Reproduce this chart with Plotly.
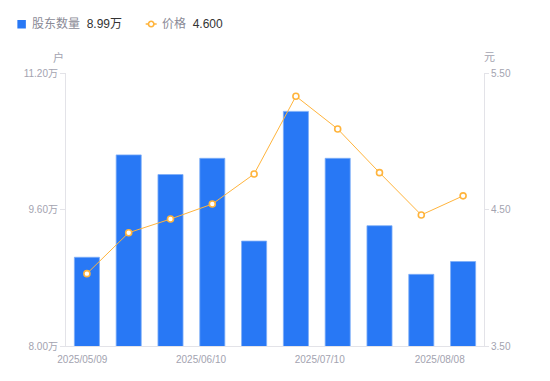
import plotly.graph_objects as go

# ---- data ----
holders = [9.04, 10.24, 10.01, 10.20, 9.23, 10.75, 10.20, 9.41, 8.84, 8.99]   # 万户
price = [4.03, 4.33, 4.43, 4.54, 4.76, 5.33, 5.09, 4.77, 4.46, 4.60]          # 元
x_tick_labels = ["2025/05/09", "2025/06/10", "2025/07/10", "2025/08/08"]
y_left_ticks = [8.00, 9.60, 11.20]
y_right_ticks = [3.50, 4.50, 5.50]
holder_name = "股东数量"
price_name = "价格"
latest_holder = "8.99万"
latest_price = "4.600"

# ---- styles ----
BLUE = "#2878F5"
ORANGE = "#FFB43C"
TICK = "#A3A3B0"
AXIS = "#E3E3E8"
FONT = "Liberation Sans, Arial, Noto Sans CJK SC, sans-serif"

OFF = 8                      # page body margin
W, H = 550 - OFF, 381 - OFF
PL, PR, PT, PB = 65.7, 484.3, 73, 346     # plot area in page pixels
L, R, T, B = PL - OFF, W - (PR - OFF), PT - OFF, H - (PB - OFF)
pw, ph = W - L - R, H - T - B

idx = list(range(len(holders)))

fig = go.Figure()
fig.add_trace(go.Bar(
    x=idx, y=holders, name=holder_name,
    marker=dict(color=BLUE, line=dict(color="#7FAEF8", width=0.8)),
    width=0.6, yaxis="y", hoverinfo="skip",
))
fig.add_trace(go.Scatter(
    x=idx, y=price, name=price_name, mode="lines+markers", yaxis="y2",
    line=dict(color=ORANGE, width=1),
    marker=dict(symbol="circle", size=6, color="white",
                line=dict(color=ORANGE, width=1.6)),
    hoverinfo="skip",
))

# tick positions of the date labels (in category units)
x_tick_pos = [-0.11, 2.73, 5.57, 8.44]

fig.update_layout(
    width=W, height=H,
    margin=dict(l=L, r=R, t=T, b=B, pad=0),
    paper_bgcolor="white", plot_bgcolor="white",
    showlegend=False,
    font=dict(family=FONT, size=10, color=TICK),
    xaxis=dict(
        range=[-0.5, len(holders) - 0.5],
        tickmode="array", tickvals=x_tick_pos, ticktext=x_tick_labels,
        showgrid=False, zeroline=False,
        showline=True, linecolor=AXIS, linewidth=1,
        ticks="", ticklabelstandoff=4, tickfont=dict(size=10, color=TICK),
    ),
    yaxis=dict(
        range=[8.0, 11.2],
        tickmode="array", tickvals=y_left_ticks,
        ticktext=[f"{v:.2f}万" for v in y_left_ticks],
        showgrid=False, zeroline=False,
        showline=True, linecolor=AXIS, linewidth=1,
        ticks="outside", ticklen=5, tickcolor=AXIS,
        tickfont=dict(size=10, color=TICK),
    ),
    yaxis2=dict(
        range=[3.5, 5.5], overlaying="y", side="right",
        tickmode="array", tickvals=y_right_ticks,
        ticktext=[f"{v:.2f}" for v in y_right_ticks],
        showgrid=False, zeroline=False,
        showline=True, linecolor=AXIS, linewidth=1,
        ticks="outside", ticklen=4, tickcolor=AXIS,
        tickfont=dict(size=10, color=TICK),
    ),
)

def px_x(p):
    return (p - PL) / pw

def px_y(p):
    return (PB - p) / ph

# axis unit labels
fig.add_annotation(text="户", x=px_x(58), y=px_y(57), xref="paper", yref="paper",
                   showarrow=False, font=dict(size=11, color=TICK),
                   xanchor="center", yanchor="middle")
fig.add_annotation(text="元", x=px_x(490), y=px_y(57), xref="paper", yref="paper",
                   showarrow=False, font=dict(size=11, color=TICK),
                   xanchor="center", yanchor="middle")

# custom legend
ly = px_y(24)
fig.add_shape(type="rect", xref="paper", yref="paper",
              x0=px_x(17), x1=px_x(25.5), y0=px_y(20), y1=px_y(28.5),
              fillcolor=BLUE, line=dict(width=0))
fig.add_annotation(
    text=f"<span style='color:#8A8A96'>{holder_name}</span>  <span style='color:#333333'>{latest_holder}</span>",
    x=px_x(30), y=ly, xref="paper", yref="paper", showarrow=False,
    xanchor="left", yanchor="middle", font=dict(size=12, family=FONT))
fig.add_shape(type="line", xref="paper", yref="paper",
              x0=px_x(145.5), x1=px_x(156.5), y0=ly, y1=ly,
              line=dict(color=ORANGE, width=1.5))
fig.add_shape(type="circle", xref="paper", yref="paper",
              x0=px_x(148.3), x1=px_x(153.7), y0=px_y(21.3), y1=px_y(26.7),
              fillcolor="white", line=dict(color=ORANGE, width=1.6))
fig.add_annotation(
    text=f"<span style='color:#8A8A96'>{price_name}</span>  <span style='color:#333333'>{latest_price}</span>",
    x=px_x(160), y=ly, xref="paper", yref="paper", showarrow=False,
    xanchor="left", yanchor="middle", font=dict(size=12, family=FONT))

fig.write_html("out.html")
